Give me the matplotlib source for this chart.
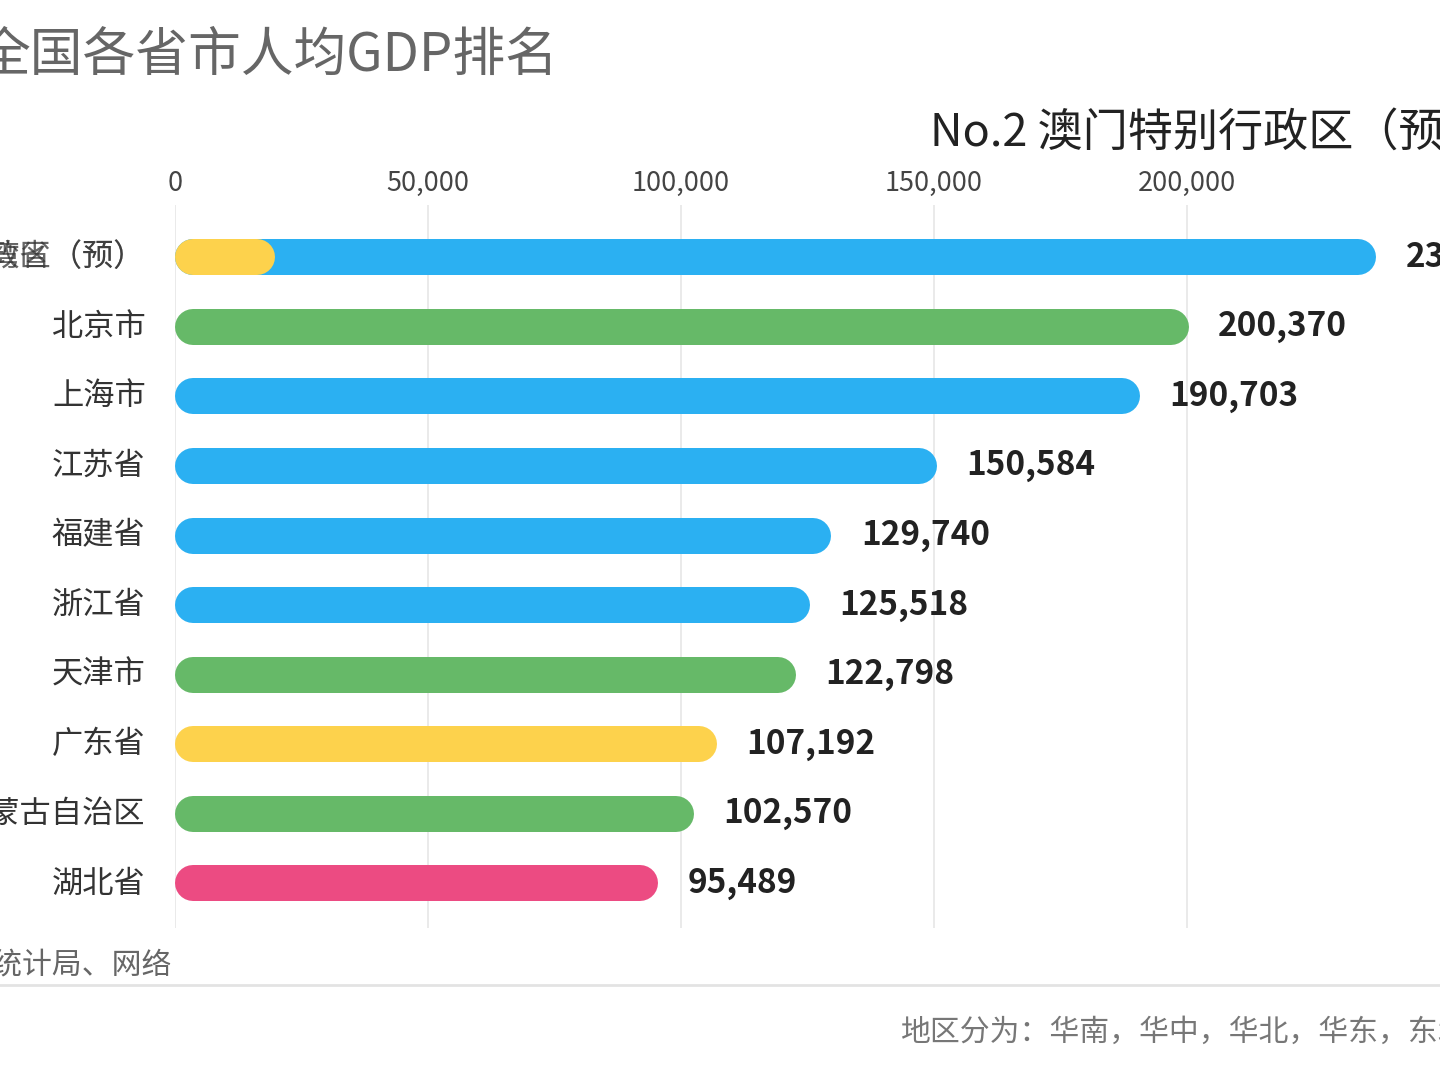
import numpy as np
import matplotlib
matplotlib.use('Agg')
import matplotlib.pyplot as plt

plt.rcParams['font.family'] = ['Noto Sans CJK SC', 'DejaVu Sans']

regions = ['澳门特别行政区（预）', '北京市', '上海市', '江苏省', '福建省',
           '浙江省', '天津市', '广东省', '内蒙古自治区', '湖北省']
values = [237415, 200370, 190703, 150584, 129740,
          125518, 122798, 107192, 102570, 95489]
areas = ['华东', '华北', '华东', '华东', '华东',
         '华东', '华北', '华南', '华北', '华中']
# bar of the row that is fading in behind the first one
ghost_label = '台湾省（预）'
ghost_value = 19800
ghost_area = '华南'

ticks = [0, 50000, 100000, 150000, 200000]
area_colors = {'华南': '#fdd24c', '华东': '#2bb0f2', '华北': '#66b968',
               '华中': '#ec4b82'}

W, H = 1440, 1080
fig = plt.figure(figsize=(W / 100, H / 100), dpi=100)
fig.patch.set_facecolor('white')

# axes in pixel terms
left_px, top_px, bot_px = 175, 205, 928
xmax = 250000
px_per_unit = 5.06 / 1000
width_px = xmax * px_per_unit
ax = fig.add_axes([left_px / W, 1 - bot_px / H, width_px / W,
                   (bot_px - top_px) / H])
ax.set_xlim(0, xmax)
ax.set_ylim(9.64, -0.75)
ax.set_facecolor('none')
for s in ax.spines.values():
    s.set_visible(False)

ax.xaxis.tick_top()
ax.set_xticks(ticks)
ax.set_xticklabels(['{:,}'.format(t) for t in ticks])
ax.tick_params(axis='x', length=0, pad=6, labelsize=19.5, labelcolor='#444444')
for t in ax.get_xticklabels():
    t.set_fontweight('medium')
ax.set_yticks([])
ax.grid(axis='x', color='#e6e6e6', linewidth=1.2)
ax.set_axisbelow(True)

bar_px = 36
lw = bar_px * 72 / 100
r = (bar_px / 2) / px_per_unit

y = np.arange(len(regions))


def round_bar(yy, v, color):
    ax.plot([r, max(v - r, r + 1)], [yy, yy], color=color, linewidth=lw,
            solid_capstyle='round', zorder=3)


for i, (v, a) in enumerate(zip(values, areas)):
    round_bar(y[i], v, area_colors[a])
    ax.text(v + 5800, y[i], '{:,}'.format(v), va='center', ha='left',
            fontsize=24, fontweight='semibold', color='#222222')
round_bar(y[0], ghost_value, area_colors[ghost_area])

for i, name in enumerate(regions):
    ax.text(-5800, y[i], name, va='center', ha='right', fontsize=22.5,
            fontweight='medium', color='#333333',
            alpha=0.75 if i == 0 else 1)
ax.text(-5800, y[0], ghost_label, va='center', ha='right', fontsize=22.5,
        fontweight='medium', color='#333333', alpha=0.75)

fig.text(-22 / W, 1 - 55 / H, '全国各省市人均GDP排名', ha='left', va='center',
         fontsize=38, color='#666666')
fig.text(930 / W, 1 - 133 / H, 'No.2 澳门特别行政区（预）', ha='left',
         va='center', fontsize=32.5, color='#222222')
fig.text(172 / W, 1 - 965 / H, '数据来源：国家统计局、网络', ha='right',
         va='center', fontsize=21.5, color='#666666')
fig.add_artist(plt.Line2D([0, 1], [1 - 985 / H, 1 - 985 / H],
                          color='#e3e3e3', linewidth=2))
fig.text(900 / W, 1 - 1032 / H, '地区分为：华南，华中，华北，华东，东北，西南，西北',
         ha='left', va='center', fontsize=21.5, color='#777777')

fig.savefig('out.png', dpi=100, facecolor='white')
